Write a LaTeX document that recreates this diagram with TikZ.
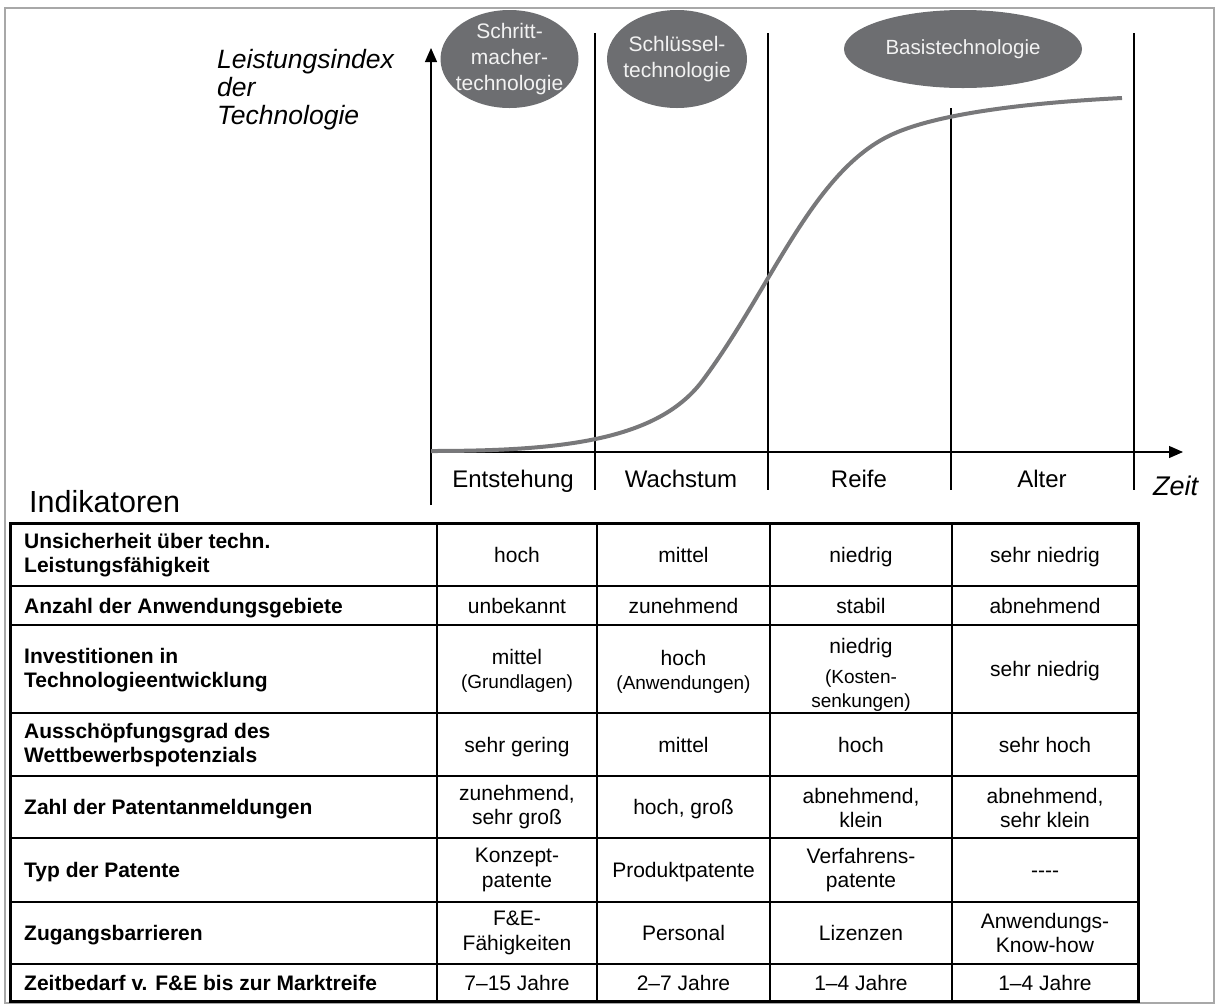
\documentclass[tikz,border=0pt]{standalone}
\usepackage{fontspec}
\setmainfont{Liberation Sans}
\usetikzlibrary{arrows.meta,shapes.geometric}

\definecolor{ovalgray}{HTML}{6D6E71}
\definecolor{ovaltext}{HTML}{F2F2F2}
\definecolor{curvegray}{HTML}{78787A}
\definecolor{framegray}{HTML}{A8A8A8}

\newcommand{\subsz}{\fontsize{19}{23}\selectfont}

\begin{document}
\begin{tikzpicture}[x=1pt,y=-1pt,
  every node/.style={inner sep=0pt},
  cell/.style={align=center, font=\fontsize{21}{24.5}\selectfont},
  cellone/.style={cell, text height=15pt, text depth=0pt},
  lab/.style={anchor=west, align=left, font=\bfseries\fontsize{21}{24.5}\selectfont},
  labone/.style={lab, text height=15pt, text depth=0pt},
  phase/.style={anchor=base, font=\fontsize{24}{28}\selectfont},
  ylab/.style={anchor=base west, font=\itshape\fontsize{26.5}{28}\selectfont},
  oval/.style={ellipse, fill=ovalgray, draw=none},
  ovallabel/.style={align=center, text=ovaltext, font=\fontsize{21}{26}\selectfont},
  axis/.style={line width=1.2pt, -{Triangle[length=14pt,width=12pt]}},
  phaseline/.style={line width=1.2pt},
  grid/.style={line width=1.4pt},
  tableframe/.style={line width=3pt},
]
\useasboundingbox (0,0) rectangle (1219,1005);

% outer frame
\draw[framegray, line width=1.5pt] (5,8) rectangle (1214,1003);

% technology type ovals
\node[oval, minimum width=138, minimum height=98] (pace) at (509.5,59) {};
\node[ovallabel] (pacetxt) at (pace) {Schritt-\\macher-\\technologie};
\node[oval, minimum width=140, minimum height=98] (key) at (677,59) {};
\node[ovallabel] (keytxt) at (key) {Schlüssel-\\technologie};
\node[oval, minimum width=238, minimum height=78] (base) at (963,49) {};
\node[ovallabel, font=\fontsize{20.5}{25}\selectfont] (basetxt) at (base) {Basistechnologie};

% axes
\coordinate (origin) at (431,452);
\coordinate (ybottom) at (431,505);
\coordinate (ytip) at (431,48);
\coordinate (xtip) at (1183,452);
\draw[axis] (ybottom) -- (ytip);
\draw[axis] (origin) -- (xtip);

% phase boundaries
\coordinate (p1t) at (595,33);  \coordinate (p1b) at (595,490);
\coordinate (p2t) at (768,33);  \coordinate (p2b) at (768,490);
\coordinate (p3t) at (951,108); \coordinate (p3b) at (951,490);
\coordinate (p4t) at (1134,33); \coordinate (p4b) at (1134,490);
\draw[phaseline] (p1t) -- (p1b);
\draw[phaseline] (p2t) -- (p2b);
\draw[phaseline] (p3t) -- (p3b);
\draw[phaseline] (p4t) -- (p4b);

% S-curve of the performance index
\draw[curvegray, line width=4pt]
  (431,451) .. controls (560,451) and (658,441) .. (703,380)
            .. controls (773,285.5) and (813,170) .. (893,134)
            .. controls (943,111.5) and (1042,102) .. (1122,98);

% axis labels
\node[ylab] (ylabel1) at (217,68) {Leistungsindex};
\node[ylab] (ylabel2) at (217,96) {der};
\node[ylab] (ylabel3) at (217,124) {Technologie};
\node[anchor=base west, font=\itshape\fontsize{27}{30}\selectfont] (xlabel) at (1153,495) {Zeit};
\node[phase] (ph1) at (513,487) {Entstehung};
\node[phase] (ph2) at (681,487) {Wachstum};
\node[phase] (ph3) at (859,487) {Reife};
\node[phase] (ph4) at (1042,487) {Alter};
\node[anchor=base west, font=\fontsize{30.5}{32}\selectfont] (ind) at (29,512) {Indikatoren};

% indicator table
\draw[grid] (437,523) -- (437,1001);
\draw[grid] (597,523) -- (597,1001);
\draw[grid] (770,523) -- (770,1001);
\draw[grid] (952,523) -- (952,1001);
\foreach \yy in {586,625,713,776,838,902,964}
  \draw[grid] (10,\yy) -- (1138,\yy);
\draw[tableframe] (10,523) rectangle (1138,1001);

% row 1
\node[lab] (l1) at (24,555) {Unsicherheit über techn.\\Leistungsfähigkeit};
\node[cellone] (c11) at (517,554.5) {hoch};
\node[cellone] (c12) at (683.5,554.5) {mittel};
\node[cellone] (c13) at (861,554.5) {niedrig};
\node[cellone] (c14) at (1045,554.5) {sehr niedrig};
% row 2
\node[labone] (l2) at (24,605.5) {Anzahl der Anwendungsgebiete};
\node[cellone] (c21) at (517,605.5) {unbekannt};
\node[cellone] (c22) at (683.5,605.5) {zunehmend};
\node[cellone] (c23) at (861,605.5) {stabil};
\node[cellone] (c24) at (1045,605.5) {abnehmend};
% row 3
\node[lab] (l3) at (24,670) {Investitionen in\\Technologieentwicklung};
\node[cell] (c31) at (517,671) {mittel\\[-1pt]{\subsz(Grundlagen)}};
\node[cell] (c32) at (683.5,672) {hoch\\[0pt]{\subsz(Anwendungen)}};
\node[cell] (c33) at (861,675) {niedrig\\[5pt]{\subsz(Kosten-}\\{\subsz senkungen)}};
\node[cellone] (c34) at (1045,669) {sehr niedrig};
% row 4
\node[lab] (l4) at (24,745) {Ausschöpfungsgrad des\\Wettbewerbspotenzials};
\node[cellone] (c41) at (517,744.5) {sehr gering};
\node[cellone] (c42) at (683.5,744.5) {mittel};
\node[cellone] (c43) at (861,744.5) {hoch};
\node[cellone] (c44) at (1045,744.5) {sehr hoch};
% row 5
\node[labone] (l5) at (24,807) {Zahl der Patentanmeldungen};
\node[cell] (c51) at (517,807) {zunehmend,\\sehr groß};
\node[cellone] (c52) at (683.5,807) {hoch, groß};
\node[cell] (c53) at (861,808) {abnehmend,\\klein};
\node[cell] (c54) at (1045,808) {abnehmend,\\sehr klein};
% row 6
\node[labone] (l6) at (24,870) {Typ der Patente};
\node[cell] (c61) at (517,870) {Konzept-\\patente};
\node[cellone] (c62) at (683.5,870) {Produktpatente};
\node[cell] (c63) at (861,870) {Verfahrens-\\patente};
\node[cellone] (c64) at (1045,870) {-{}-{}-{}-};
% row 7
\node[labone] (l7) at (24,933) {Zugangsbarrieren};
\node[cell] (c71) at (517,933) {F\&E-\\Fähigkeiten};
\node[cellone] (c72) at (683.5,933) {Personal};
\node[cellone] (c73) at (861,933) {Lizenzen};
\node[cell] (c74) at (1045,933) {Anwendungs-\\Know-how};
% row 8
\node[labone] (l8) at (24,982.5) {Zeitbedarf v. F\&E bis zur Marktreife};
\node[cellone] (c81) at (517,982.5) {7–15 Jahre};
\node[cellone] (c82) at (683.5,982.5) {2–7 Jahre};
\node[cellone] (c83) at (861,982.5) {1–4 Jahre};
\node[cellone] (c84) at (1045,982.5) {1–4 Jahre};
\end{tikzpicture}
\end{document}
